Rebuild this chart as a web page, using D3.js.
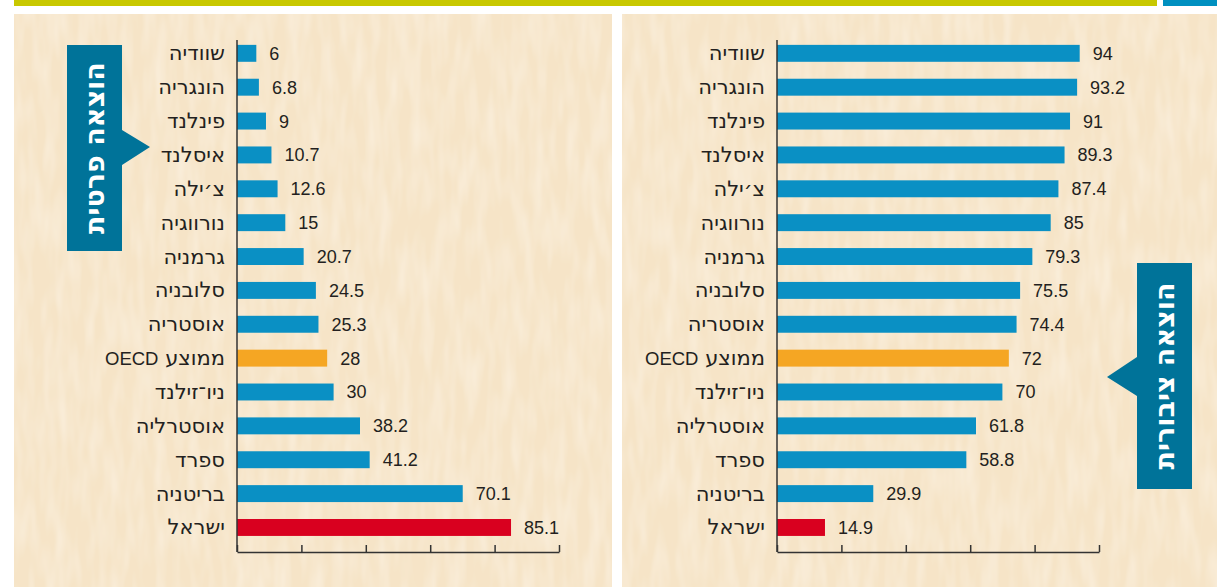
<!DOCTYPE html>
<html>
<head>
<meta charset="utf-8">
<script src="https://cdn.jsdelivr.net/npm/d3@7"></script>
<style>
  body { margin: 0; background: #fff; }
  svg { display: block; }
</style>
</head>
<body>
<div id="chart"></div>
<script>
// countries, top to bottom
var countries = ["שוודיה", "הונגריה", "פינלנד", "איסלנד", "צ׳ילה", "נורווגיה", "גרמניה", "סלובניה",
    "אוסטריה", "ממוצע OECD", "ניו־זילנד", "אוסטרליה", "ספרד", "בריטניה", "ישראל"];
// private spending share (%)
var privateShare = [6, 6.8, 9, 10.7, 12.6, 15, 20.7, 24.5, 25.3, 28, 30, 38.2, 41.2, 70.1, 85.1];
// public spending share (%)
var publicShare = [94, 93.2, 91, 89.3, 87.4, 85, 79.3, 75.5, 74.4, 72, 70, 61.8, 58.8, 29.9, 14.9];
var tickValues = [0, 20, 40, 60, 80, 100];
var panelTitles = ["הוצאה פרטית", "הוצאה ציבורית"];

var W = 1217, H = 587;
var svg = d3.select("#chart").append("svg").attr("width", W).attr("height", H);

// texture for the paper background
var defs = svg.append("defs");
var filt = defs.append("filter").attr("id", "paper").attr("x", 0).attr("y", 0).attr("width", 1).attr("height", 1);
filt.append("feTurbulence").attr("type", "fractalNoise").attr("baseFrequency", "0.09 0.02")
    .attr("numOctaves", 2).attr("seed", 3).attr("result", "noise");
filt.append("feColorMatrix").attr("in", "noise").attr("type", "matrix")
    .attr("values", "0 0 0 0 1  0 0 0 0 0.96  0 0 0 0 0.89  0 0 0 0.7 -0.25").attr("result", "spots");
filt.append("feComposite").attr("in", "spots").attr("in2", "SourceGraphic").attr("operator", "atop");

// header strip
svg.append("rect").attr("x", 14).attr("y", 0).attr("width", 1143).attr("height", 6).attr("fill", "#c8c800");
svg.append("rect").attr("x", 1163).attr("y", 0).attr("width", 54).attr("height", 6).attr("fill", "#0090c0");

var panels = [
    { x0: 14, x1: 612, axisX: 237, values: privateShare, title: panelTitles[0],
      box: { x: 67, y: 45, w: 55, h: 206, side: "right", tipY: 147 } },
    { x0: 622, x1: 1217, axisX: 777, values: publicShare, title: panelTitles[1],
      box: { x: 1137, y: 263, w: 55, h: 226, side: "left", tipY: 377 } }
];

var fontCat = "'DejaVu Sans', sans-serif";
var fontNum = "'Liberation Sans', 'DejaVu Sans', sans-serif";

// split a label into hebrew / latin runs (latin gets a smaller size)
function runs(s) {
    return s.match(/[A-Za-z0-9]+|[^A-Za-z0-9]+/g);
}

panels.forEach(function(p) {
    svg.append("rect").attr("x", p.x0).attr("y", 14).attr("width", p.x1 - p.x0).attr("height", H - 14)
        .attr("fill", "#f6e4c7").attr("filter", "url(#paper)");

    var x = d3.scaleLinear().domain([0, 100]).range([p.axisX, p.axisX + 322]);
    var y = d3.scaleBand().domain(countries).range([36.4, 544.4]).paddingInner(0.5).paddingOuter(0.25);

    var g = svg.append("g");

    g.selectAll("rect.bar")
        .data(countries)
        .enter().append("rect")
        .attr("class", "bar")
        .attr("x", x(0))
        .attr("y", function(d) { return y(d); })
        .attr("height", y.bandwidth())
        .attr("width", function(d, i) { return x(p.values[i]) - x(0); })
        .attr("fill", function(d) {
            if (d == "ישראל") return "#d9001f";
            if (d.indexOf("OECD") >= 0) return "#f5a623";
            return "#0a90c4";
        });

    g.selectAll("text.val")
        .data(countries)
        .enter().append("text")
        .attr("class", "val")
        .attr("x", function(d, i) { return x(p.values[i]) + 13; })
        .attr("y", function(d) { return y(d) + y.bandwidth() / 2; })
        .attr("dy", "0.36em")
        .attr("font-family", fontNum)
        .attr("font-size", 18)
        .attr("fill", "#231f20")
        .text(function(d, i) { return String(p.values[i]); });

    var cat = g.selectAll("text.cat")
        .data(countries)
        .enter().append("text")
        .attr("class", "cat")
        .attr("x", x(0) - 12)
        .attr("y", function(d) { return y(d) + y.bandwidth() / 2 + 7; })
        .attr("direction", "rtl")
        .attr("text-anchor", "start")
        .attr("font-family", fontCat)
        .attr("fill", "#231f20");
    cat.selectAll("tspan")
        .data(function(d) { return runs(d); })
        .enter().append("tspan")
        .attr("font-size", function(r) { return /[A-Za-z]/.test(r) ? 18.5 : 21; })
        .attr("font-family", function(r) { return /[A-Za-z]/.test(r) ? fontNum : fontCat; })
        .text(function(r) { return r; });

    // axes
    g.append("line").attr("x1", x(0)).attr("x2", x(0)).attr("y1", 40).attr("y2", 552)
        .attr("stroke", "#333").attr("stroke-width", 1.5);
    var ax = g.append("g").attr("transform", "translate(0,552)")
        .call(d3.axisBottom(x).tickValues(tickValues).tickSize(-7).tickSizeOuter(0).tickFormat(""));
    ax.select(".domain").attr("stroke", "#333").attr("stroke-width", 1.5);
    ax.selectAll(".tick line").attr("stroke", "#333").attr("stroke-width", 1.5);

    // title box with pointer
    var b = p.box;
    var pts;
    if (b.side == "right") {
        pts = [[b.x, b.y], [b.x + b.w, b.y], [b.x + b.w, b.tipY - 17], [b.x + b.w + 28, b.tipY],
            [b.x + b.w, b.tipY + 18], [b.x + b.w, b.y + b.h], [b.x, b.y + b.h]];
    } else {
        pts = [[b.x, b.y], [b.x + b.w, b.y], [b.x + b.w, b.y + b.h], [b.x, b.y + b.h],
            [b.x, b.tipY + 19], [b.x - 30, b.tipY], [b.x, b.tipY - 20]];
    }
    svg.append("polygon").attr("points", pts.map(function(q) { return q.join(","); }).join(" "))
        .attr("fill", "#007399");
    svg.append("text")
        .attr("transform", "translate(" + (b.x + b.w / 2) + "," + (b.y + b.h / 2) + ") rotate(-90)")
        .attr("text-anchor", "middle")
        .attr("dy", "0.35em")
        .attr("font-family", "'DejaVu Sans', sans-serif")
        .attr("font-weight", "bold")
        .attr("font-size", 27)
        .attr("fill", "#fff")
        .text(p.title);
});
</script>
</body>
</html>
